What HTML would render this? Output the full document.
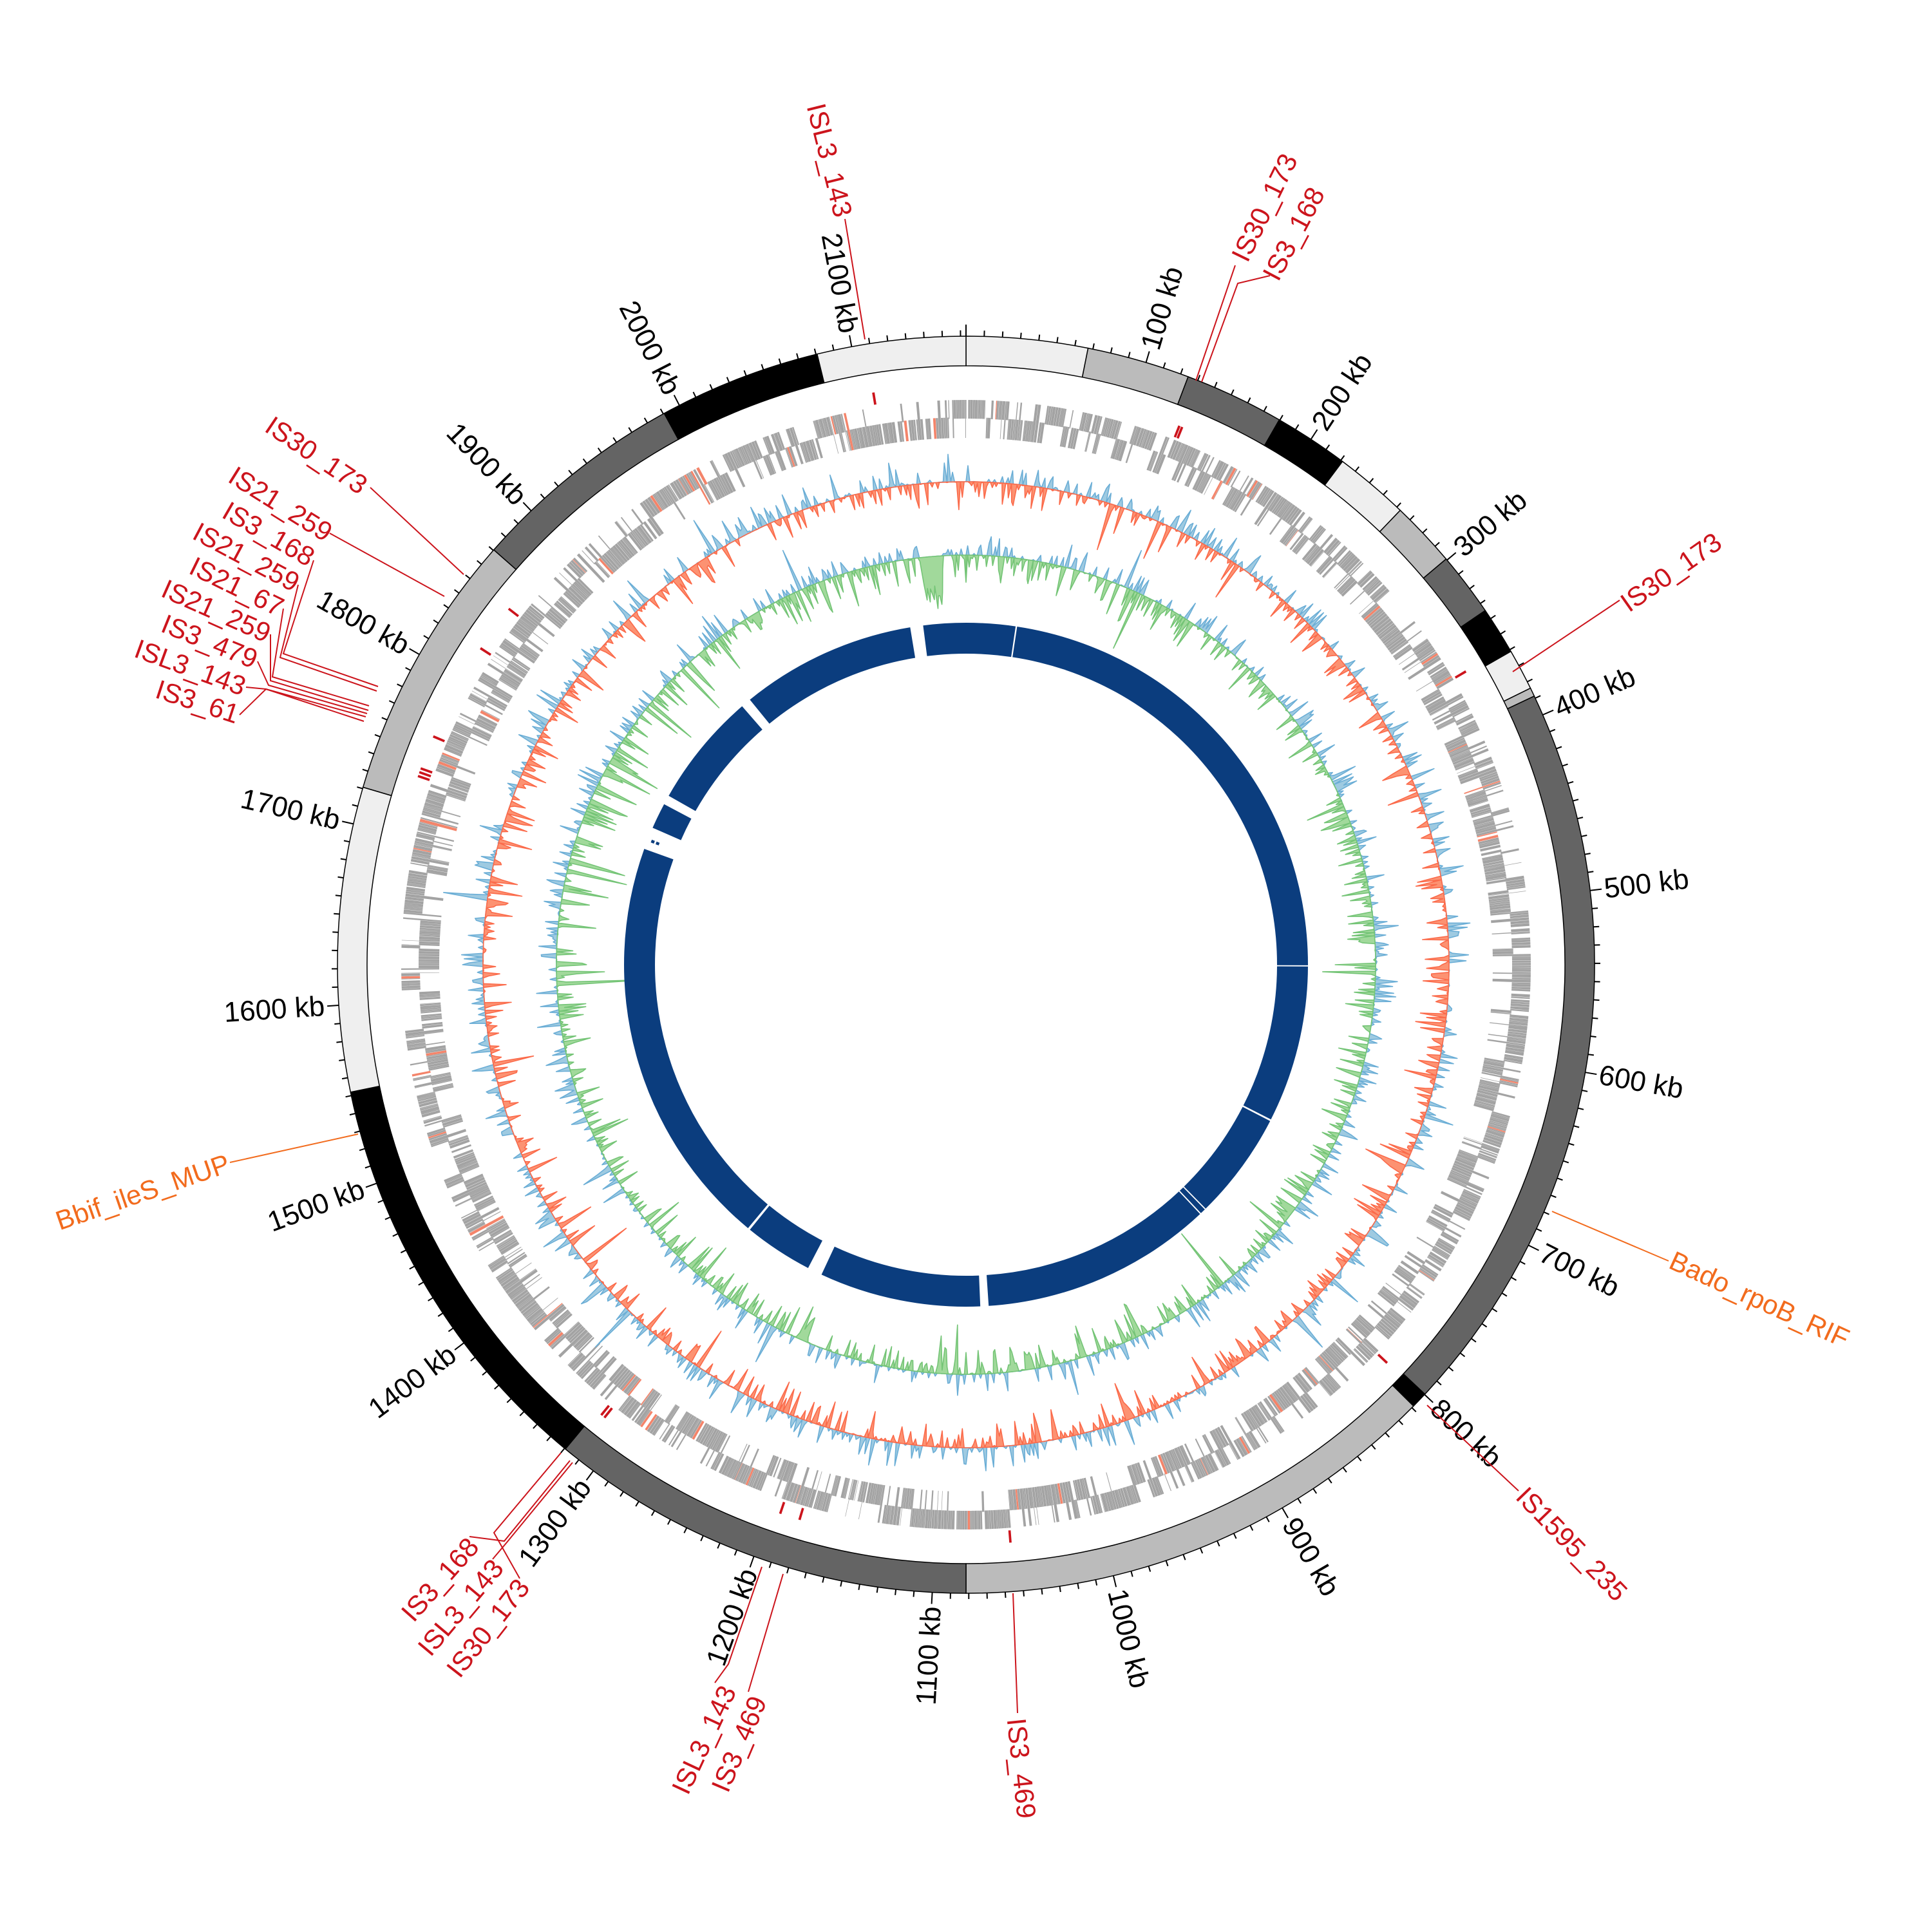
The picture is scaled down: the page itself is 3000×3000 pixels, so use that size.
<!DOCTYPE html>
<html><head><meta charset="utf-8">
<style>
html,body{margin:0;padding:0;background:#fff;}
svg{display:block;}
text{font-family:"Liberation Sans",sans-serif;}
.t{font-size:44px;fill:#000;dominant-baseline:central;}
.r{font-size:42px;fill:#cc141c;dominant-baseline:central;}
.o{font-size:42px;fill:#f26b1d;dominant-baseline:central;}
.ln{fill:none;stroke:#cc141c;stroke-width:2;}
.lo{fill:none;stroke:#f26b1d;stroke-width:2;}
</style></head>
<body>
<svg id="s" xmlns="http://www.w3.org/2000/svg" width="3000" height="3000" viewBox="0 0 3000 3000">
<rect width="3000" height="3000" fill="#fff"/>
<g id="data"></g>
<g>
<text class="t" x="2498" y="1498" transform="rotate(-73.36 1500 1498)">100 kb</text>
<text class="t" x="2498" y="1498" transform="rotate(-56.71 1500 1498)">200 kb</text>
<text class="t" x="2498" y="1498" transform="rotate(-40.07 1500 1498)">300 kb</text>
<text class="t" x="2498" y="1498" transform="rotate(-23.43 1500 1498)">400 kb</text>
<text class="t" x="2498" y="1498" transform="rotate(-6.78 1500 1498)">500 kb</text>
<text class="t" x="2498" y="1498" transform="rotate(9.86 1500 1498)">600 kb</text>
<text class="t" x="2498" y="1498" transform="rotate(26.50 1500 1498)">700 kb</text>
<text class="t" x="2498" y="1498" transform="rotate(43.15 1500 1498)">800 kb</text>
<text class="t" x="2498" y="1498" transform="rotate(59.79 1500 1498)">900 kb</text>
<text class="t" x="2498" y="1498" transform="rotate(76.44 1500 1498)">1000 kb</text>
<text class="t" x="502" y="1498" text-anchor="end" transform="rotate(273.08 1500 1498)">1100 kb</text>
<text class="t" x="502" y="1498" text-anchor="end" transform="rotate(289.72 1500 1498)">1200 kb</text>
<text class="t" x="502" y="1498" text-anchor="end" transform="rotate(306.37 1500 1498)">1300 kb</text>
<text class="t" x="502" y="1498" text-anchor="end" transform="rotate(323.01 1500 1498)">1400 kb</text>
<text class="t" x="502" y="1498" text-anchor="end" transform="rotate(339.65 1500 1498)">1500 kb</text>
<text class="t" x="502" y="1498" text-anchor="end" transform="rotate(356.30 1500 1498)">1600 kb</text>
<text class="t" x="502" y="1498" text-anchor="end" transform="rotate(372.94 1500 1498)">1700 kb</text>
<text class="t" x="502" y="1498" text-anchor="end" transform="rotate(389.58 1500 1498)">1800 kb</text>
<text class="t" x="502" y="1498" text-anchor="end" transform="rotate(406.23 1500 1498)">1900 kb</text>
<text class="t" x="502" y="1498" text-anchor="end" transform="rotate(422.87 1500 1498)">2000 kb</text>
<text class="t" x="502" y="1498" text-anchor="end" transform="rotate(439.51 1500 1498)">2100 kb</text>
</g>
<g>
<polyline class="ln" points="1343,527 1312,340"/>
<polyline class="ln" points="1857,591 1918,412"/>
<polyline class="ln" points="1866,593 1922,440 1972,428"/>
<polyline class="ln" points="2349,1043 2515,932"/>
<polyline class="lo" points="2410,1881 2591,1958"/>
<polyline class="ln" points="2216,2182 2358,2315"/>
<polyline class="ln" points="1573,2474 1580,2660"/>
<polyline class="ln" points="1216,2444 1162,2627"/>
<polyline class="ln" points="1183,2433 1131,2584 1110,2613"/>
<polyline class="ln" points="871,2256 767,2380 807,2451"/>
<polyline class="ln" points="885,2268 783,2393 729,2386"/>
<polyline class="ln" points="889,2271 787,2395 765,2421"/>
<polyline class="lo" points="556,1761 357,1805"/>
<polyline class="ln" points="575,757 720,892"/>
<polyline class="ln" points="512,828 690,926"/>
<polyline class="ln" points="487,870 440,1015 587,1066"/>
<polyline class="ln" points="463,908 435,1021 585,1073"/>
<polyline class="ln" points="440,945 423,1051 573,1096"/>
<polyline class="ln" points="420,985 420,1057 572,1103"/>
<polyline class="ln" points="400,1027 417,1064 570,1108"/>
<polyline class="ln" points="382,1067 413,1070 568,1113"/>
<polyline class="ln" points="372,1110 413,1070 565,1120"/>
</g>
<g>
<text class="r" x="1310" y="336" text-anchor="end" transform="rotate(76 1310 336)">ISL3_143</text>
<text class="r" x="1924" y="403" transform="rotate(-64 1924 403)">IS30_173</text>
<text class="r" x="1972" y="432" transform="rotate(-62 1972 432)">IS3_168</text>
<text class="r" x="2521" y="940" transform="rotate(-35 2521 940)">IS30_173</text>
<text class="o" x="2595" y="1955" transform="rotate(24.6 2595 1955)">Bado_rpoB_RIF</text>
<text class="r" x="2362" y="2316" transform="rotate(46 2362 2316)">IS1595_235</text>
<text class="r" x="1578" y="2668" transform="rotate(84 1578 2668)">IS3_469</text>
<text class="r" x="1131" y="2620" text-anchor="end" transform="rotate(-65 1131 2620)">ISL3_143</text>
<text class="r" x="1178" y="2636" text-anchor="end" transform="rotate(-67 1178 2636)">IS3_469</text>
<text class="r" x="735" y="2394" text-anchor="end" transform="rotate(-48.5 735 2394)">IS3_168</text>
<text class="r" x="773" y="2427" text-anchor="end" transform="rotate(-50 773 2427)">ISL3_143</text>
<text class="r" x="813" y="2457" text-anchor="end" transform="rotate(-52 813 2457)">IS30_173</text>
<text class="o" x="355" y="1805" text-anchor="end" transform="rotate(-19 355 1805)">Bbif_ileS_MUP</text>
<text class="r" x="566" y="757" text-anchor="end" transform="rotate(34 566 757)">IS30_173</text>
<text class="r" x="512" y="830" text-anchor="end" transform="rotate(32 512 830)">IS21_259</text>
<text class="r" x="485" y="868" text-anchor="end" transform="rotate(30 485 868)">IS3_168</text>
<text class="r" x="462" y="907" text-anchor="end" transform="rotate(28 462 907)">IS21_259</text>
<text class="r" x="438" y="945" text-anchor="end" transform="rotate(26 438 945)">IS21_67</text>
<text class="r" x="418" y="985" text-anchor="end" transform="rotate(24 418 985)">IS21_259</text>
<text class="r" x="398" y="1025" text-anchor="end" transform="rotate(22 398 1025)">IS3_479</text>
<text class="r" x="380" y="1067" text-anchor="end" transform="rotate(20 380 1067)">ISL3_143</text>
<text class="r" x="370" y="1110" text-anchor="end" transform="rotate(18 370 1110)">IS3_61</text>
</g>
</svg>
<script>
(function(){
var NS="http://www.w3.org/2000/svg",CX=1500,CY=1498,g=document.getElementById("data");
function P(r,a){a=a*Math.PI/180;return [CX+r*Math.sin(a),CY-r*Math.cos(a)];}
function f(p){return p[0].toFixed(1)+","+p[1].toFixed(1);}
function sec(r0,r1,a0,a1){var L=(a1-a0)>180?1:0;return "M"+f(P(r1,a0))+"A"+r1+","+r1+" 0 "+L+" 1 "+f(P(r1,a1))+"L"+f(P(r0,a1))+"A"+r0+","+r0+" 0 "+L+" 0 "+f(P(r0,a0))+"Z";}
function add(tag,attrs){var e=document.createElementNS(NS,tag);for(var k in attrs)e.setAttribute(k,attrs[k]);g.appendChild(e);return e;}
var seed=12345;function rnd(){seed=(seed*1103515245+12345)&0x7fffffff;return seed/0x7fffffff;}
var L="#efefef",M="#bbbbbb",D="#646464",B="#000000";
var segs=[[0,11.2,L],[11.2,20.7,M],[20.7,29.9,D],[29.9,36.8,B],[36.8,43.7,L],[43.7,49.8,M],[49.8,55.7,D],[55.7,60.1,B],[60.1,63.9,L],[63.9,64.7,M],[64.7,133.1,D],[133.1,134.6,B],[134.6,180,M],[180,219.6,D],[219.6,258.3,B],[258.3,286.4,L],[286.4,311.3,M],[311.3,331.3,D],[331.3,346.3,B],[346.3,360,L]];
segs.forEach(function(s){add("path",{d:sec(930,976,s[0],s[1]),fill:s[2],stroke:"#000","stroke-width":1.5});});
var KB=360/2163,td="";
for(var k=0;k<2163;k+=10){var a=k*KB,maj=(k%100==0);td+="M"+f(P(976,a))+"L"+f(P(maj?994:985,a));}
add("path",{d:td,stroke:"#000","stroke-width":2,fill:"none"});
// genes: dense, strand runs
var gd="",gr="";
var pos=0,strand=0;
while(pos<360){
 var len=0.04+rnd()*0.28;
 if(rnd()<0.1)strand=1-strand;
 var r0=strand?818:848,r1=strand?850:877;
 if(rnd()<0.15){r0=818;r1=877;}
 if(rnd()<0.93){var d=sec(r0,r1,pos,pos+len*0.92);if(rnd()<0.025)gr+=d;else gd+=d;}
 pos+=len;
}
add("path",{d:gd,fill:"#a3a3a3"});
add("path",{d:gr,fill:"#f4846a"});
function track(r0,ap,an,cp,cps,cn,cns,N,spk,dipFn){
 var vals=[];
 for(var i=0;i<N;i++){
  var x=rnd()-0.5,y=rnd();
  var v=(x>0?ap:-an)*Math.pow(Math.abs(x)*2,2.2)*(0.5+y*0.7);
  if(rnd()<spk)v*=1.8;
  if(dipFn)v=dipFn(i/N*360,v);
  vals.push(v);
 }
 var pp=[],pn=[],base=[];
 for(var i=0;i<=N;i++){
  var a=i/N*360,v=vals[i%N];
  pp.push(f(P(r0+Math.max(v,0),a)));
  pn.push(f(P(r0+Math.min(v,0),a)));
  base.push(f(P(r0,a)));
 }
 var b=base.slice().reverse().join(" ");
 add("polygon",{points:pp.join(" ")+" "+b,fill:cp,stroke:cps,"stroke-width":1.6,"stroke-linejoin":"round"});
 add("polygon",{points:pn.join(" ")+" "+b,fill:cn,stroke:cns,"stroke-width":1.6,"stroke-linejoin":"round"});
}
track(750,38,46,"#9ecae1","#6baed6","#fc9272","#fb6a4a",1600,0.08,null);
track(636,34,55,"#9ecae1","#6baed6","#a1d99b","#74c476",1600,0.06,function(a,v){
 if(a>353.5&&a<356.5)return -40-rnd()*45;
 if(a>265&&a<300&&v<0)return v*1.6;
 return v;});
var gaps=[[350.6,352.8],[8.35,8.6],[90.1,90.3],[116.9,117.2],[135.5,135.7],[136.6,136.8],[176.2,177.6],[205.0,207.5],[219.2,219.6],[319.1,320.8],[298.0,299.6],[289.8,293.6]];
gaps.sort(function(a,b){return a[0]-b[0];});
var st=0,bd="";
gaps.forEach(function(gp){if(gp[0]>st)bd+=sec(483,531,st,gp[0]);st=gp[1];});
bd+=sec(483,531,st,360);
add("path",{d:bd,fill:"#0b3d7e"});
add("path",{d:sec(512,517,291.2,291.7)+sec(520,525,291.2,291.7),fill:"#0b3d7e"});
var mk=[-9.2,21.6,21.9,59.6,133.4,175.6,196.7,198.7,218.6,219.0,289.0,289.4,289.8,293.2,303.1,307.9];
var md="";mk.forEach(function(a){md+=sec(881,900,a-0.12,a+0.12);});
add("path",{d:md,fill:"#cc141c"});
})();
</script>
</body></html>
